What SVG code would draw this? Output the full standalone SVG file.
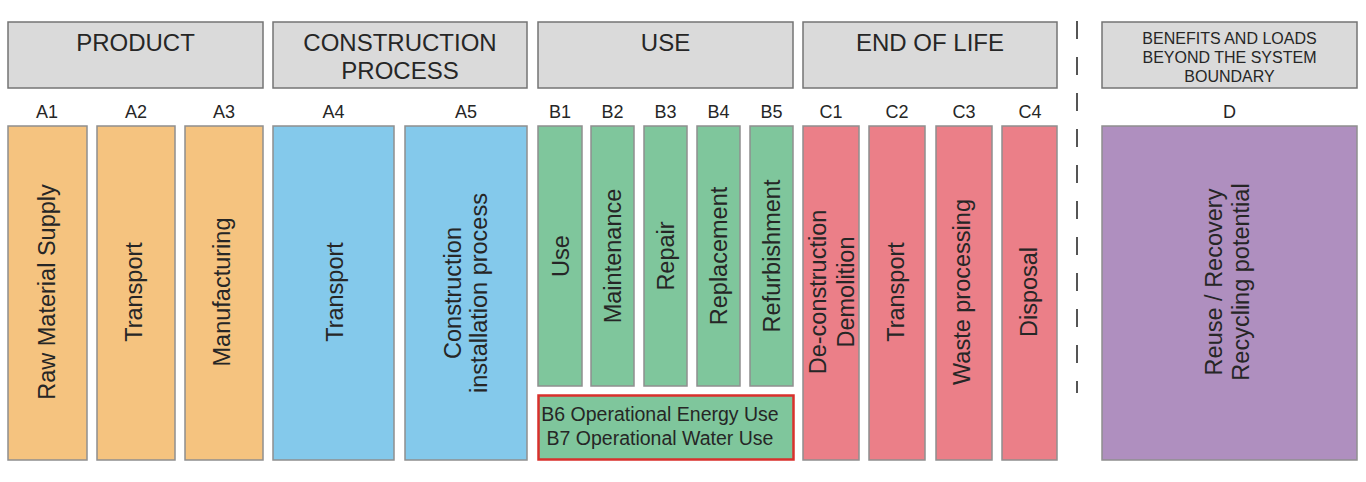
<svg xmlns="http://www.w3.org/2000/svg" width="1366" height="482" viewBox="0 0 1366 482">
<style>
  text { font-family: "Liberation Sans", Arial, sans-serif; fill: #262626; }
  .hdr { fill: #dadada; stroke: #747474; stroke-width: 1.5; }
  .ht { font-size: 24px; text-anchor: middle; }
  .hs { font-size: 16px; text-anchor: middle; }
  .lbl { font-size: 18px; text-anchor: middle; }
  .box { stroke: #8f8f8f; stroke-width: 1.5; }
  .or { fill: #f5c37f; }
  .bl { fill: #84c9eb; }
  .gr { fill: #7fc69c; }
  .pk { fill: #eb7f88; }
  .pu { fill: #af8fbf; }
  .vt { font-size: 23.5px; text-anchor: middle; }
  .op { font-size: 19.5px; text-anchor: middle; }
</style>
<rect width="1366" height="482" fill="#ffffff"/>

<g id="hdr-product"><rect class="hdr" x="8" y="22" width="255" height="66"/><text class="ht" x="135.5" y="51">PRODUCT</text></g>
<g id="hdr-construction"><rect class="hdr" x="273" y="22" width="254" height="66"/><text class="ht" x="400" y="51">CONSTRUCTION</text><text class="ht" x="400" y="79">PROCESS</text></g>
<g id="hdr-use"><rect class="hdr" x="538" y="22" width="255" height="66"/><text class="ht" x="665.5" y="51">USE</text></g>
<g id="hdr-eol"><rect class="hdr" x="803" y="22" width="254" height="66"/><text class="ht" x="930" y="51">END OF LIFE</text></g>
<g id="hdr-d"><rect class="hdr" x="1102" y="22" width="255" height="66"/><text class="hs" x="1229.5" y="44">BENEFITS AND LOADS</text><text class="hs" x="1229.5" y="63">BEYOND THE SYSTEM</text><text class="hs" x="1229.5" y="82">BOUNDARY</text></g>

<g id="labels">
  <text class="lbl" x="47" y="118">A1</text>
  <text class="lbl" x="136" y="118">A2</text>
  <text class="lbl" x="224" y="118">A3</text>
  <text class="lbl" x="333.5" y="118">A4</text>
  <text class="lbl" x="466" y="118">A5</text>
  <text class="lbl" x="560" y="118">B1</text>
  <text class="lbl" x="612.5" y="118">B2</text>
  <text class="lbl" x="665.5" y="118">B3</text>
  <text class="lbl" x="718.5" y="118">B4</text>
  <text class="lbl" x="771.5" y="118">B5</text>
  <text class="lbl" x="831" y="118">C1</text>
  <text class="lbl" x="897" y="118">C2</text>
  <text class="lbl" x="964" y="118">C3</text>
  <text class="lbl" x="1030" y="118">C4</text>
  <text class="lbl" x="1229.5" y="118">D</text>
</g>

<g id="A1"><rect class="box or" x="8" y="126" width="79" height="334"/><text class="vt" transform="translate(55,292) rotate(-90)">Raw Material Supply</text></g>
<g id="A2"><rect class="box or" x="97" y="126" width="78" height="334"/><text class="vt" transform="translate(142,292) rotate(-90)">Transport</text></g>
<g id="A3"><rect class="box or" x="185" y="126" width="78" height="334"/><text class="vt" transform="translate(230,292) rotate(-90)">Manufacturing</text></g>
<g id="A4"><rect class="box bl" x="273" y="126" width="121" height="334"/><text class="vt" transform="translate(343,292) rotate(-90)">Transport</text></g>
<g id="A5"><rect class="box bl" x="405" y="126" width="122" height="334"/><text class="vt" transform="translate(461,293) rotate(-90)">Construction</text><text class="vt" transform="translate(487,293) rotate(-90)">installation process</text></g>

<g id="B1"><rect class="box gr" x="538" y="126" width="44" height="260"/><text class="vt" transform="translate(569,256) rotate(-90)">Use</text></g>
<g id="B2"><rect class="box gr" x="591" y="126" width="43" height="260"/><text class="vt" transform="translate(621,256) rotate(-90)">Maintenance</text></g>
<g id="B3"><rect class="box gr" x="644" y="126" width="43" height="260"/><text class="vt" transform="translate(674,256) rotate(-90)">Repair</text></g>
<g id="B4"><rect class="box gr" x="697" y="126" width="43" height="260"/><text class="vt" transform="translate(727,256) rotate(-90)">Replacement</text></g>
<g id="B5"><rect class="box gr" x="750" y="126" width="43" height="260"/><text class="vt" transform="translate(780,256) rotate(-90)">Refurbishment</text></g>
<g id="B6B7"><rect x="538.5" y="395.5" width="255" height="64" fill="#7fc69c" stroke="#d9302c" stroke-width="2.5"/><text class="op" x="660" y="421">B6 Operational Energy Use</text><text class="op" x="660" y="445">B7 Operational Water Use</text></g>

<g id="C1"><rect class="box pk" x="803" y="126" width="56" height="334"/><text class="vt" transform="translate(826,292) rotate(-90)">De-construction</text><text class="vt" transform="translate(854,292) rotate(-90)">Demolition</text></g>
<g id="C2"><rect class="box pk" x="869" y="126" width="56" height="334"/><text class="vt" transform="translate(904,292) rotate(-90)">Transport</text></g>
<g id="C3"><rect class="box pk" x="936" y="126" width="56" height="334"/><text class="vt" transform="translate(970,292) rotate(-90)">Waste processing</text></g>
<g id="C4"><rect class="box pk" x="1002" y="126" width="55" height="334"/><text class="vt" transform="translate(1037,292) rotate(-90)">Disposal</text></g>

<g id="D"><rect class="box pu" x="1102" y="126" width="255" height="334"/><text class="vt" transform="translate(1222,282) rotate(-90)">Reuse / Recovery</text><text class="vt" transform="translate(1249,282) rotate(-90)">Recycling potential</text></g>

<g id="connectors">
  <line x1="1077" y1="21" x2="1077" y2="393" stroke="#555555" stroke-width="2" stroke-dasharray="18 18"/>
</g>
</svg>
